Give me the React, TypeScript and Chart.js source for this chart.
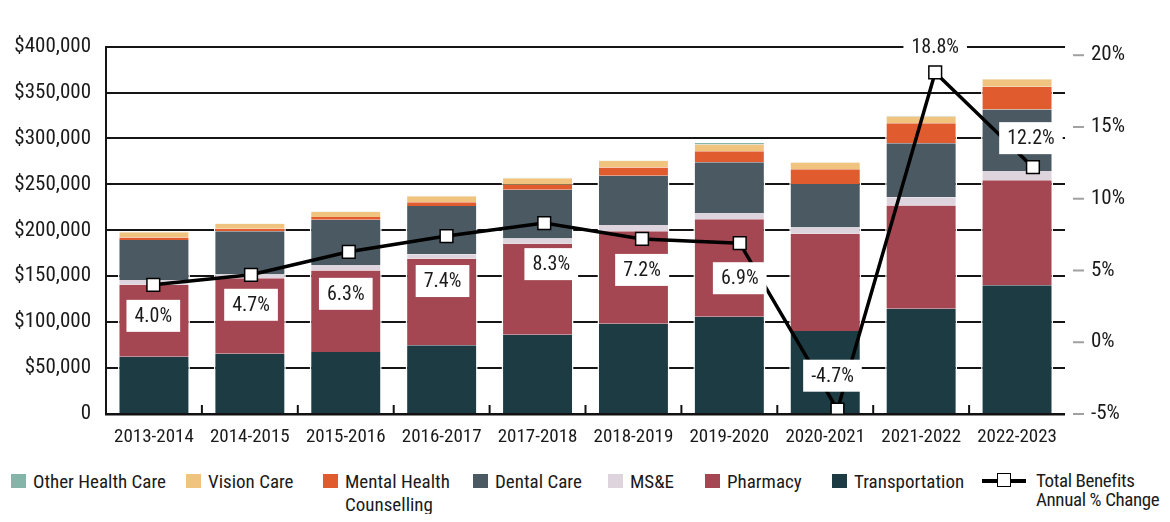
import React, { useEffect, useRef } from 'react';
import { Chart, registerables } from 'chart.js';

Chart.register(...registerables);

const categories = ['2013-2014', '2014-2015', '2015-2016', '2016-2017', '2017-2018', '2018-2019', '2019-2020', '2020-2021', '2021-2022', '2022-2023'];

const transportation = [62200, 65600, 67400, 74900, 86200, 98200, 106000, 90300, 114600, 140200];
const pharmacy = [78600, 82100, 88800, 94000, 99100, 100800, 106000, 105900, 112400, 114200];
const mse = [5200, 4100, 5900, 5100, 5800, 6800, 6800, 6900, 8900, 10200];
const dental = [43400, 47200, 49500, 52400, 53000, 53700, 55400, 47200, 58800, 67000];
const mentalHealth = [2700, 2700, 2800, 4100, 5500, 8900, 12000, 16100, 21900, 24600];
const vision = [5900, 5500, 5800, 6500, 7200, 7200, 7300, 7300, 7200, 8300];
const otherHealth = [300, 300, 300, 300, 300, 300, 1500, 500, 1000, 300];

const pctChange = [4.0, 4.7, 6.3, 7.4, 8.3, 7.2, 6.9, -4.7, 18.8, 12.2];

const leftTicks = [0, 50000, 100000, 150000, 200000, 250000, 300000, 350000, 400000];
const rightTicks = [-5, 0, 5, 10, 15, 20];

// annotation layout (label box offsets from each point)
const labelDx = [0, 0, -3, -4, 7, 0, 0, -5, 0, -2];
const labelDy = [31, 30, 42, 45, 41, 31, 35, -34, -25, -29];

// legend layout (left edge of each legend item, container px)
const legendLeft = [3, 178, 315, 465, 600, 697, 824, 974];

const FONT = "'Roboto Condensed', 'Archivo Narrow', 'DejaVu Sans Condensed', sans-serif";
const TEXT = '#1a1a1a';

const barSeries = [
  { label: 'Transportation', data: transportation, color: '#1d3b42' },
  { label: 'Pharmacy', data: pharmacy, color: '#a44752' },
  { label: 'MS&E', data: mse, color: '#ddd4de' },
  { label: 'Dental Care', data: dental, color: '#4b5a62' },
  { label: 'Mental Health\nCounselling', data: mentalHealth, color: '#e05b2e' },
  { label: 'Vision Care', data: vision, color: '#f0c47f' },
  { label: 'Other Health Care', data: otherHealth, color: '#84b5a8' },
];

const decorPlugin = {
  id: 'decor',
  afterDatasetsDraw(chart: any) {
    const { ctx, chartArea, scales } = chart;
    const xs = scales.x;
    const y2 = scales.y2;
    ctx.save();
    ctx.strokeStyle = '#111';
    ctx.lineWidth = 2;
    for (let i = 1; i < categories.length; i++) {
      const x = (xs.getPixelForValue(i - 1) + xs.getPixelForValue(i)) / 2;
      ctx.beginPath();
      ctx.moveTo(x, chartArea.bottom);
      ctx.lineTo(x, chartArea.bottom - 9);
      ctx.stroke();
    }
    ctx.beginPath();
    ctx.moveTo(chartArea.left - 1, chartArea.bottom + 0.5);
    ctx.lineTo(chartArea.right, chartArea.bottom + 0.5);
    ctx.stroke();
    ctx.strokeStyle = '#a0a0a0';
    ctx.lineWidth = 2;
    rightTicks.forEach((v) => {
      const y = y2.getPixelForValue(v);
      ctx.beginPath();
      ctx.moveTo(chartArea.right + 8, y);
      ctx.lineTo(chartArea.right + 19, y);
      ctx.stroke();
    });
    const lineIdx = chart.data.datasets.length - 1;
    const meta = chart.getDatasetMeta(lineIdx);
    ctx.font = `20px ${FONT}`;
    ctx.textAlign = 'center';
    ctx.textBaseline = 'middle';
    meta.data.forEach((pt: any, i: number) => {
      const text = pctChange[i].toFixed(1) + '%';
      const w = ctx.measureText(text).width + 16;
      const h = 32;
      const cx = pt.x + labelDx[i];
      const cy = pt.y + labelDy[i];
      ctx.fillStyle = '#fff';
      ctx.fillRect(cx - w / 2, cy - h / 2, w, h);
      ctx.fillStyle = TEXT;
      ctx.fillText(text, cx, cy + 1);
    });
    ctx.restore();
  },
};

export default function App() {
  const ref = useRef<HTMLCanvasElement>(null);

  useEffect(() => {
    const datasets: any[] = barSeries.map((s) => ({
      type: 'bar',
      label: s.label,
      data: s.data,
      backgroundColor: s.color,
      borderColor: '#ffffff',
      borderWidth: { left: 1.5, right: 1.5, top: 0, bottom: 0 },
      borderSkipped: false,
      stack: 'benefits',
      grouped: false,
      xAxisID: 'x',
      yAxisID: 'y',
      order: 2,
      categoryPercentage: 1,
      barPercentage: 0.75,
    }));
    datasets.push({
      type: 'line',
      label: 'Total Benefits Annual % Change',
      data: pctChange.map((v, i) => ({ x: i, y: v })),
      xAxisID: 'xLine',
      yAxisID: 'y2',
      borderColor: '#000',
      borderWidth: 3.5,
      pointStyle: 'rect',
      pointRadius: 9,
      pointBackgroundColor: '#fff',
      pointBorderColor: '#000',
      pointBorderWidth: 1.5,
      tension: 0,
      order: 0,
    });

    const tickFont = { family: FONT, size: 21 };
    const chart = new Chart(ref.current!, {
      type: 'bar',
      data: { labels: categories, datasets },
      options: {
        animation: false,
        responsive: true,
        maintainAspectRatio: false,
        layout: { padding: { top: 16, left: 0, right: 0, bottom: 0 } },
        plugins: { legend: { display: false }, tooltip: { enabled: false } },
        scales: {
          x: {
            type: 'category',
            stacked: true,
            offset: true,
            grid: { display: false, drawTicks: false, offset: true },
            border: { display: false },
            ticks: { font: { family: FONT, size: 19 }, color: TEXT, padding: 12, maxRotation: 0, autoSkip: false },
            afterFit: (s: any) => { s.height = 40; },
          },
          xLine: {
            type: 'linear',
            display: false,
            offset: false,
            min: -0.484,
            max: 9.328,
          },
          y: {
            type: 'linear',
            position: 'left',
            stacked: true,
            min: 0,
            max: 400000,
            afterBuildTicks: (s: any) => { s.ticks = leftTicks.map((v) => ({ value: v })); },
            ticks: {
              font: tickFont,
              color: TEXT,
              padding: 15,
              callback: (v: any) => (v === 0 ? '0' : '$' + Number(v).toLocaleString('en-US')),
            },
            grid: { color: '#151515', lineWidth: 2, drawTicks: false },
            border: { display: true, color: '#151515', width: 2 },
            afterFit: (s: any) => { s.width = 98; },
          },
          y2: {
            type: 'linear',
            position: 'right',
            min: -5,
            max: 20.6,
            afterBuildTicks: (s: any) => { s.ticks = rightTicks.map((v) => ({ value: v })); },
            ticks: { font: tickFont, color: TEXT, padding: 26, callback: (v: any) => v + '%' },
            grid: { display: false, drawTicks: false },
            border: { display: false },
            afterFit: (s: any) => { s.width = 97; },
          },
        },
      } as any,
      plugins: [decorPlugin],
    } as any);
    return () => chart.destroy();
  }, []);

  const legendItems = [...barSeries].reverse();

  return (
    <div style={{ position: 'relative', width: 1154, height: 506, fontFamily: FONT, color: TEXT }}>
      <div style={{ position: 'absolute', left: 0, top: 0, width: 1154, height: 446 }}>
        <canvas ref={ref} />
      </div>
      {legendItems.map((s, i) => (
        <div key={s.label} style={{ position: 'absolute', left: legendLeft[i], top: 462, display: 'flex', alignItems: 'flex-start', fontSize: 19, lineHeight: '23px' }}>
          <span style={{ display: 'block', width: 15, height: 14, background: s.color, marginRight: 7, marginTop: 4 }} />
          <div style={{ whiteSpace: 'pre' }}>{s.label}</div>
        </div>
      ))}
      <div style={{ position: 'absolute', left: legendLeft[7], top: 462, display: 'flex', alignItems: 'flex-start', fontSize: 19 }}>
        <div style={{ position: 'relative', width: 44, height: 23, marginRight: 10 }}>
          <div style={{ position: 'absolute', left: 0, top: 9, width: 44, height: 3.5, background: '#000' }} />
          <div style={{ position: 'absolute', left: 15, top: 3, width: 12, height: 12, background: '#fff', border: '1.5px solid #000' }} />
        </div>
        <div style={{ whiteSpace: 'pre', lineHeight: '19px', marginTop: 1, letterSpacing: '-0.4px' }}>{'Total Benefits\nAnnual % Change'}</div>
      </div>
    </div>
  );
}
